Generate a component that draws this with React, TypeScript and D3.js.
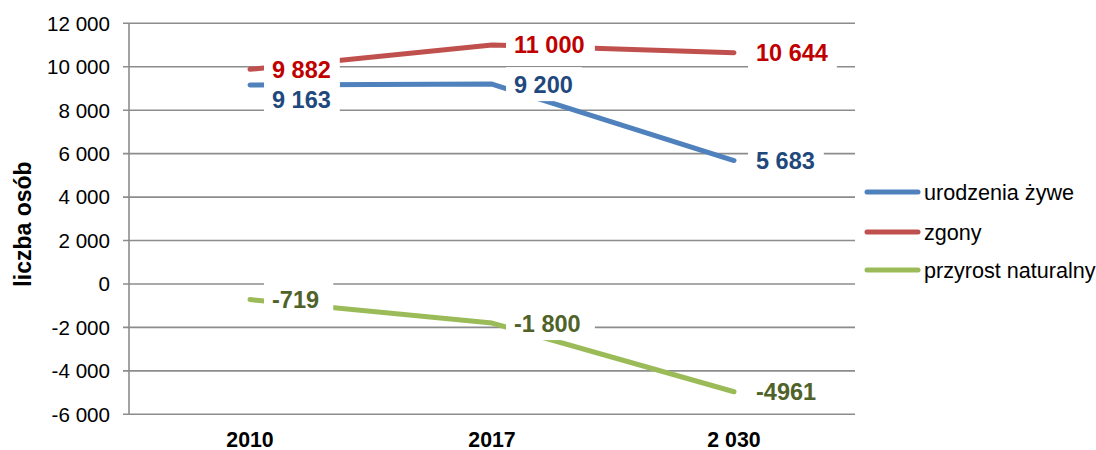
import React from "react";
import * as d3 from "d3";

const categories = ["2010", "2017", "2 030"];
const births = [9163, 9200, 5683];
const deaths = [9882, 11000, 10644];
const growth = [-719, -1800, -4961];
const birthLabels = ["9 163", "9 200", "5 683"];
const deathLabels = ["9 882", "11 000", "10 644"];
const growthLabels = ["-719", "-1 800", "-4961"];
const yTicks = [-6000, -4000, -2000, 0, 2000, 4000, 6000, 8000, 10000, 12000];
const seriesNames = ["urodzenia żywe", "zgony", "przyrost naturalny"];

const W = 1096;
const H = 450;
const FONT = "'Liberation Sans', Arial, sans-serif";

const fmtTick = (v: number) => {
  const s = Math.abs(v).toString().replace(/\B(?=(\d{3})+(?!\d))/g, " ");
  return (v < 0 ? "-" : "") + s;
};

export default function App() {
  const x = d3.scaleBand<string>().domain(categories).range([129, 855]).padding(0);
  const cx = (c: string) => (x(c) as number) + x.bandwidth() / 2;
  const y = d3.scaleLinear().domain([-6000, 12000]).range([414.3, 23.3]);

  const series = [
    { name: seriesNames[0], values: births, labels: birthLabels, color: "#4f81bd", text: "#1f497d", dy: [15, 0, 0] },
    { name: seriesNames[1], values: deaths, labels: deathLabels, color: "#c0504d", text: "#c00000", dy: [0, 0, 0] },
    { name: seriesNames[2], values: growth, labels: growthLabels, color: "#9bbb59", text: "#4f6228", dy: [0, 0, 0] },
  ];

  const line = d3
    .line<number>()
    .x((_, i) => cx(categories[i]))
    .y((d) => y(d));

  const labelFont = 23.5;
  const measure = (s: string) => {
    let w = 0;
    for (const ch of s) w += ch === " " ? 0.278 : 0.556;
    return w * labelFont;
  };

  const grid = "#8c8c8c";

  return (
    <div style={{ position: "absolute", left: 0, top: 0 }}>
      <svg width={W} height={H} style={{ display: "block", background: "#fff" }} fontFamily={FONT}>
        {/* gridlines */}
        {yTicks.map((t) => (
          <g key={t}>
            <line x1={123} x2={855} y1={y(t)} y2={y(t)} stroke={grid} strokeWidth={1.6} />
            <text x={110} y={y(t)} dy="0.36em" textAnchor="end" fontSize={20.6} fill="#000">
              {fmtTick(t)}
            </text>
          </g>
        ))}
        <line x1={129} x2={129} y1={y(12000)} y2={y(-6000)} stroke={grid} strokeWidth={1.6} />

        {/* category labels */}
        {categories.map((c) => (
          <text key={c} x={cx(c)} y={446.5} textAnchor="middle" fontSize={21.3} fontWeight="bold" fill="#000">
            {c}
          </text>
        ))}

        {/* y axis title */}
        <text
          transform={`translate(31,${224}) rotate(-90)`}
          textAnchor="middle"
          fontSize={23}
          fontWeight="bold"
          fill="#000"
        >
          liczba osób
        </text>

        {/* lines */}
        {series.map((s) => (
          <path
            key={s.name}
            d={line(s.values) as string}
            fill="none"
            stroke={s.color}
            strokeWidth={5}
            strokeLinecap="round"
            strokeLinejoin="round"
          />
        ))}

        {/* data labels */}
        {series.map((s) =>
          s.values.map((v, i) => {
            const px = cx(categories[i]);
            const py = y(v) + s.dy[i];
            const tx = px + 22;
            const tw = measure(s.labels[i]);
            return (
              <g key={s.name + i}>
                <rect x={tx - 8} y={py - 17} width={tw + 17} height={34} fill="#fff" />
                <text x={tx} y={py} dy="0.36em" fontSize={labelFont} fontWeight="bold" fill={s.text}>
                  {s.labels[i]}
                </text>
              </g>
            );
          })
        )}

        {/* legend */}
        {series.map((s, i) => {
          const ly = [192, 232, 270][i];
          return (
            <g key={"lg" + i}>
              <line x1={867} x2={918} y1={ly} y2={ly} stroke={s.color} strokeWidth={5} strokeLinecap="round" />
              <text x={924} y={ly} dy="0.36em" fontSize={21.6} fill="#000">
                {s.name}
              </text>
            </g>
          );
        })}
      </svg>
    </div>
  );
}
